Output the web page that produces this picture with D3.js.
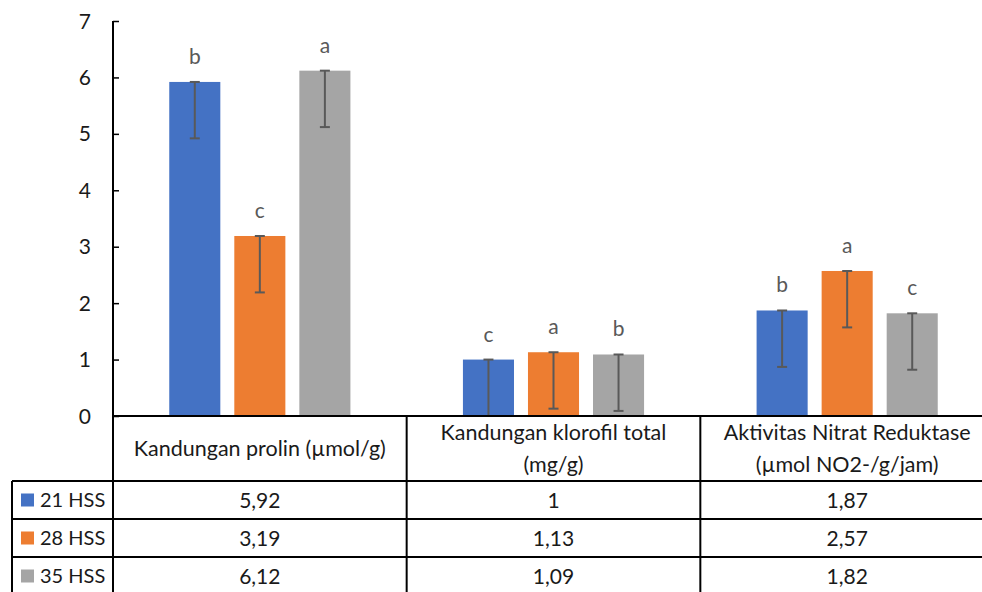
<!DOCTYPE html>
<html>
<head>
<meta charset="utf-8">
<script src="https://cdn.jsdelivr.net/npm/d3@7"></script>
<style>
    body { margin: 0; background: #fff; }
    svg { display: block; font-family: Lato, 'Open Sans', sans-serif; }
</style>
</head>
<body>
<div id="chart"></div>
<script>
// Data
const categories = [
    ['Kandungan prolin (µmol/g)'],
    ['Kandungan klorofil total', '(mg/g)'],
    ['Aktivitas Nitrat Reduktase', '(µmol NO2-/g/jam)']
];
const seriesNames = ['21 HSS', '28 HSS', '35 HSS'];
const hss21 = [5.92, 1, 1.87];
const hss28 = [3.19, 1.13, 2.57];
const hss35 = [6.12, 1.09, 1.82];
const errMinus = [1, 1, 1];
const letters21 = ['b', 'c', 'b'];
const letters28 = ['c', 'a', 'a'];
const letters35 = ['a', 'b', 'c'];
const yTicks = [0, 1, 2, 3, 4, 5, 6, 7];

const colors = ['#4472C4', '#ED7D31', '#A5A5A5'];

const series = [
    { name: seriesNames[0], values: hss21, letters: letters21 },
    { name: seriesNames[1], values: hss28, letters: letters28 },
    { name: seriesNames[2], values: hss35, letters: letters35 }
];

const chart = {
    totalWidth: 982,
    totalHeight: 592,
    left: 113,
    right: 994,
    top: 21,
    zeroY: 416,
    headerBottom: 481,
    rowHeight: 38,
    legendLeft: 12
};

const svg = d3.select('#chart')
    .append('svg')
    .attr('width', chart.totalWidth)
    .attr('height', chart.totalHeight);

// Scales
const xScale = d3.scaleBand()
    .domain(d3.range(categories.length))
    .range([chart.left, chart.right])
    .padding(0);

const innerScale = d3.scaleBand()
    .domain(d3.range(series.length))
    .range([0, xScale.bandwidth()])
    .paddingInner(0.215)
    .paddingOuter(0.865);

const yScale = d3.scaleLinear()
    .domain([0, 7])
    .range([chart.zeroY, chart.top]);

const fmt = d3.formatLocale({ decimal: ',', thousands: '.', grouping: [3], currency: ['', ''] }).format('~g');

// Y axis
const yAxis = d3.axisRight(yScale)
    .tickValues(yTicks)
    .tickSize(6)
    .tickFormat('');

svg.append('g')
    .classed('y-axis', true)
    .attr('transform', `translate(${chart.left}, 0)`)
    .call(yAxis)
    .call(g => g.select('.domain').remove())
    .call(g => g.selectAll('line').attr('stroke', '#000').attr('stroke-width', 1.5));

svg.append('g')
    .selectAll('text')
    .data(yTicks)
    .enter()
    .append('text')
    .attr('x', 91)
    .attr('y', d => yScale(d))
    .attr('dy', '0.36em')
    .attr('text-anchor', 'end')
    .attr('font-size', 21)
    .attr('fill', '#1a1a1a')
    .text(d => d);

// Bars
const groups = svg.append('g')
    .classed('bars', true)
    .selectAll('g')
    .data(series)
    .enter()
    .append('g');

groups.selectAll('rect')
    .data((s, si) => s.values.map((v, ci) => ({ v, ci, si })))
    .enter()
    .append('rect')
    .attr('x', d => xScale(d.ci) + innerScale(d.si))
    .attr('width', innerScale.bandwidth())
    .attr('y', d => yScale(d.v))
    .attr('height', d => yScale(0) - yScale(d.v))
    .attr('fill', d => colors[d.si]);

// Error bars (minus direction)
const errData = [];
series.forEach((s, si) => s.values.forEach((v, ci) => {
    errData.push({ v, ci, si, lo: Math.max(0, v - errMinus[ci]), letter: s.letters[ci] });
}));
const cx = d => xScale(d.ci) + innerScale(d.si) + innerScale.bandwidth() / 2;

const err = svg.append('g').classed('errors', true)
    .attr('stroke', '#595959')
    .attr('stroke-width', 2);

err.selectAll('.stem')
    .data(errData)
    .enter()
    .append('line')
    .attr('x1', cx).attr('x2', cx)
    .attr('y1', d => yScale(d.v))
    .attr('y2', d => yScale(d.lo));

err.selectAll('.cap-top')
    .data(errData)
    .enter()
    .append('line')
    .attr('x1', d => cx(d) - 5).attr('x2', d => cx(d) + 5)
    .attr('y1', d => yScale(d.v)).attr('y2', d => yScale(d.v));

err.selectAll('.cap-bottom')
    .data(errData.filter(d => d.lo > 0))
    .enter()
    .append('line')
    .attr('x1', d => cx(d) - 5).attr('x2', d => cx(d) + 5)
    .attr('y1', d => yScale(d.lo)).attr('y2', d => yScale(d.lo));

// Letters
svg.append('g')
    .selectAll('text')
    .data(errData)
    .enter()
    .append('text')
    .attr('x', cx)
    .attr('y', d => yScale(d.v) - 18)
    .attr('text-anchor', 'middle')
    .attr('font-size', 21)
    .attr('fill', '#595959')
    .text(d => d.letter);

// Data table
const table = svg.append('g').classed('table', true)
    .attr('stroke', '#000')
    .attr('stroke-width', 2);

const tableBottom = chart.headerBottom + chart.rowHeight * series.length;
const rowY = i => chart.headerBottom + chart.rowHeight * i;

// horizontal lines
table.append('line')
    .attr('x1', chart.left).attr('x2', chart.right)
    .attr('y1', chart.zeroY).attr('y2', chart.zeroY);
d3.range(series.length + 1).forEach(i => {
    table.append('line')
        .attr('x1', chart.legendLeft).attr('x2', chart.right)
        .attr('y1', rowY(i)).attr('y2', rowY(i));
});
// vertical lines
table.append('line')
    .attr('x1', chart.left).attr('x2', chart.left)
    .attr('y1', chart.top).attr('y2', tableBottom);
table.append('line')
    .attr('x1', chart.legendLeft).attr('x2', chart.legendLeft)
    .attr('y1', chart.headerBottom).attr('y2', tableBottom);
categories.forEach((c, i) => {
    const x = xScale(i) + xScale.bandwidth();
    table.append('line')
        .attr('x1', x).attr('x2', x)
        .attr('y1', chart.zeroY).attr('y2', tableBottom);
});

// header labels
const headers = svg.append('g')
    .selectAll('text')
    .data(categories)
    .enter()
    .append('text')
    .attr('text-anchor', 'middle')
    .attr('font-size', 21.5)
    .attr('fill', '#1a1a1a');

headers.selectAll('tspan')
    .data((c, i) => c.map((line, li) => ({ line, li, n: c.length, i })))
    .enter()
    .append('tspan')
    .attr('x', d => xScale(d.i) + xScale.bandwidth() / 2)
    .attr('y', d => (chart.zeroY + chart.headerBottom) / 2 + (d.li - (d.n - 1) / 2) * 32)
    .attr('dy', '0.35em')
    .text(d => d.line);

// rows
series.forEach((s, si) => {
    const yMid = rowY(si) + chart.rowHeight / 2;
    svg.append('rect')
        .attr('x', 21)
        .attr('y', yMid - 6.5)
        .attr('width', 13)
        .attr('height', 13)
        .attr('fill', colors[si]);
    svg.append('text')
        .attr('x', 40)
        .attr('y', yMid)
        .attr('dy', '0.36em')
        .attr('font-size', 20)
        .attr('fill', '#1a1a1a')
        .text(s.name);
    svg.append('g')
        .selectAll('text')
        .data(s.values)
        .enter()
        .append('text')
        .attr('x', (v, ci) => xScale(ci) + xScale.bandwidth() / 2)
        .attr('y', yMid)
        .attr('dy', '0.36em')
        .attr('text-anchor', 'middle')
        .attr('font-size', 21)
        .attr('fill', '#1a1a1a')
        .text(v => fmt(v));
});
</script>
</body>
</html>
